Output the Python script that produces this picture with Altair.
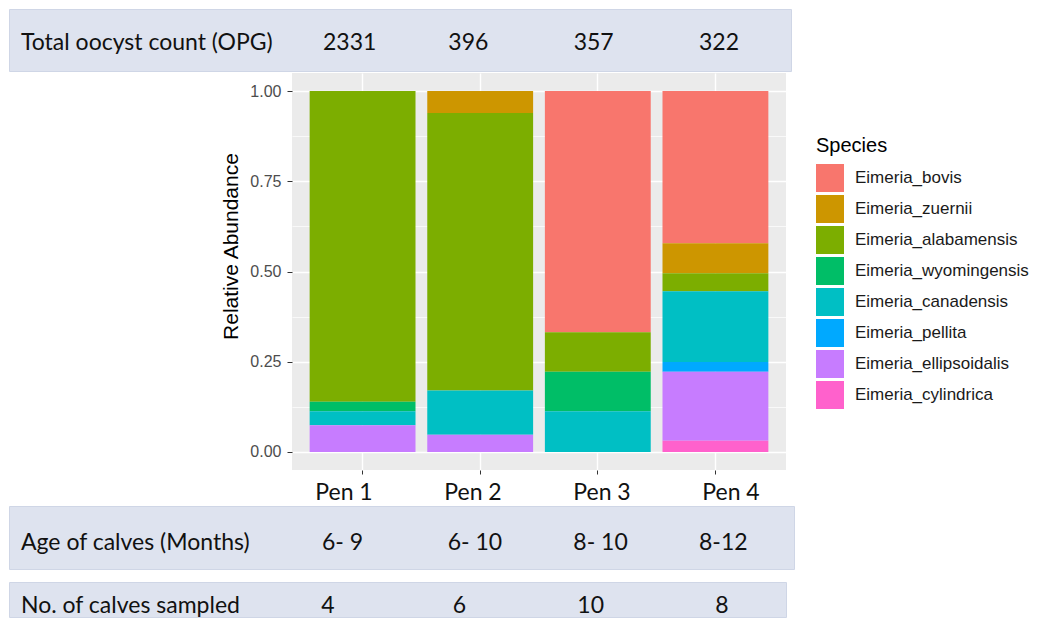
import altair as alt
import pandas as pd

# ---------------- data ----------------
pens = ["Pen 1", "Pen 2", "Pen 3", "Pen 4"]
species = [
    "Eimeria_bovis", "Eimeria_zuernii", "Eimeria_alabamensis", "Eimeria_wyomingensis",
    "Eimeria_canadensis", "Eimeria_pellita", "Eimeria_ellipsoidalis", "Eimeria_cylindrica",
]
bovis = [0.0, 0.0, 0.668, 0.422]
zuernii = [0.0, 0.061, 0.0, 0.083]
alabamensis = [0.861, 0.769, 0.110, 0.050]
wyomingensis = [0.026, 0.0, 0.109, 0.0]
canadensis = [0.039, 0.122, 0.113, 0.196]
pellita = [0.0, 0.0, 0.0, 0.027]
ellipsoidalis = [0.074, 0.048, 0.0, 0.191]
cylindrica = [0.0, 0.0, 0.0, 0.031]

oocyst_counts = ["2331", "396", "357", "322"]
ages = ["6- 9", "6- 10", "8- 10", "8-12"]
calves = ["4", "6", "10", "8"]

colors = ["#F8766D", "#CD9600", "#7CAE00", "#00BE67", "#00BFC4", "#00A9FF", "#C77CFF", "#FF61CC"]

series = [bovis, zuernii, alabamensis, wyomingensis, canadensis, pellita, ellipsoidalis, cylindrica]
rows = []
for i, (sp, vals) in enumerate(zip(species, series)):
    for p, v in zip(pens, vals):
        if v > 0:
            rows.append({"pen": p, "species": sp, "idx": i, "value": v})
df = pd.DataFrame(rows)

CHART_FONT = "Liberation Sans"
TABLE_FONT = "Lato"
BAND_FILL = "#dee3ef"
BAND_STROKE = "#cfd6e6"

# ---------------- table rows ----------------
def table_row(label, values, width, height, text_y, rng, align, fill=BAND_FILL, stroke=BAND_STROKE):
    layers = []
    if label:
        layers.append(
            alt.Chart(pd.DataFrame({"t": [label]}))
            .mark_text(font=TABLE_FONT, fontSize=23, align="left", baseline="middle", color="#111111")
            .encode(text="t:N", x=alt.value(12), y=alt.value(text_y))
        )
    layers.append(
        alt.Chart(pd.DataFrame({"pen": pens, "t": values}))
        .mark_text(font=TABLE_FONT, fontSize=23, align=align, baseline="middle", color="#111111")
        .encode(
            text="t:N",
            x=alt.X("pen:N", scale=alt.Scale(type="point", domain=pens, range=rng, padding=0), axis=None),
            y=alt.value(text_y),
        )
    )
    return alt.layer(*layers).properties(
        width=width, height=height,
        view=alt.ViewBackground(fill=fill, stroke=stroke, strokeWidth=1),
    )

top_row = table_row("Total oocyst count (OPG)", oocyst_counts, 782, 62, 34, [314, 690], "left")
pen_row = table_row(None, pens, 782, 26, 18, [335, 722], "center", fill="white", stroke=None)
age_row = table_row("Age of calves (Months)", ages, 785, 63, 37, [313, 690], "left")
calf_row = table_row("No. of calves sampled", calves, 777, 35, 24, [319, 713], "center")

# ---------------- bar chart ----------------
test = "abs(datum.value*4 - round(datum.value*4)) < 0.001"
yvals = [0, 0.125, 0.25, 0.375, 0.5, 0.625, 0.75, 0.875, 1.0]

bars = (
    alt.Chart(df)
    .mark_bar(stroke=None)
    .encode(
        x=alt.X(
            "pen:N",
            scale=alt.Scale(domain=pens, paddingInner=0.1, paddingOuter=0.15),
            axis=alt.Axis(
                title=None, labels=False, domain=False, ticks=True, tickSize=4,
                tickColor="#333333", grid=True, gridColor="white", gridWidth=1.4,
                bandPosition=0.5,
            ),
        ),
        y=alt.Y(
            "value:Q",
            stack="zero",
            scale=alt.Scale(domain=[-0.05, 1.05], nice=False, zero=False),
            axis=alt.Axis(
                values=yvals,
                title="Relative Abundance",
                titleFont=CHART_FONT, titleFontSize=21, titleFontWeight="normal",
                titleColor="black", titlePadding=8, titleY=173,
                labelExpr=f"{test} ? format(datum.value, '.2f') : ''",
                labelFont=CHART_FONT, labelFontSize=16, labelColor="#4D4D4D", labelPadding=6,
                tickSize=5,
                tickColor={"condition": {"test": test, "value": "#333333"}, "value": "transparent"},
                grid=True, gridColor="white",
                gridWidth={"condition": {"test": test, "value": 1.4}, "value": 0.7},
                domain=False,
            ),
        ),
        color=alt.Color(
            "species:N",
            scale=alt.Scale(domain=species, range=colors),
            legend=alt.Legend(
                orient="none", legendX=807, legendY=127, padding=0,
                title="Species", titleFont=CHART_FONT, titleFontSize=20,
                titleFontWeight="normal", titleColor="black", titlePadding=8,
                labelFont=CHART_FONT, labelFontSize=17, labelColor="#1a1a1a", labelLimit=400,
                symbolType="square", symbolSize=784, symbolStrokeWidth=0, symbolOpacity=1,
                rowPadding=3, labelOffset=11,
            ),
        ),
        order=alt.Order("idx:Q", sort="descending"),
    )
    .properties(width=494, height=397, view=alt.ViewBackground(fill="#EBEBEB", stroke=None))
)

spacer = (
    alt.Chart(pd.DataFrame({"v": [0]}))
    .mark_point(opacity=0, size=1)
    .encode(x=alt.value(100), y=alt.value(200))
    .properties(width=211, height=397, view=alt.ViewBackground(fill=None, stroke=None))
)

mid = alt.hconcat(spacer, bars, spacing=0)

chart = (
    alt.vconcat(
        alt.vconcat(top_row, mid, spacing=1),
        pen_row,
        alt.vconcat(age_row, calf_row, spacing=11),
        spacing=0,
    )
    .properties(padding=0, background="white")
    .configure_view(stroke=None)
)

chart.save("out.html", embed_options={"renderer": "svg", "actions": False})
